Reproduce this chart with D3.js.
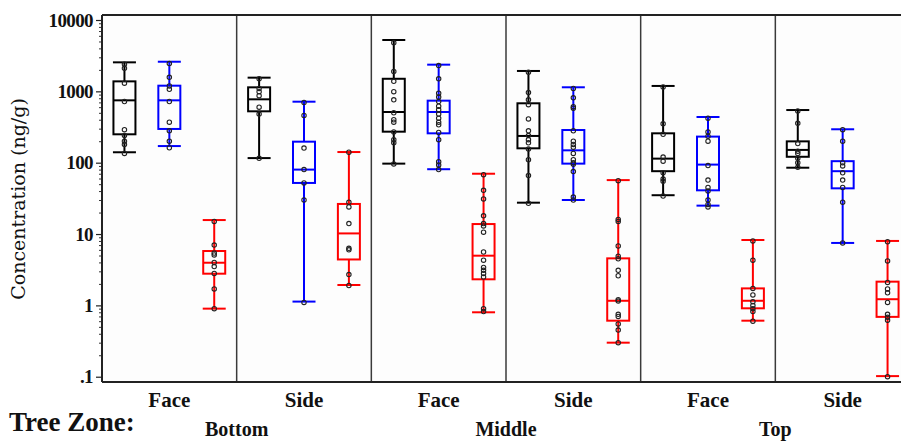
<!DOCTYPE html>
<html>
<head>
<meta charset="utf-8">
<script src="https://cdn.jsdelivr.net/npm/d3@7"></script>
<style>
  body { margin: 0; background: #fff; }
  svg { display: block; }
</style>
</head>
<body>
<div id="chart"></div>
<script>
// panels: zone x side
const zones = ["Bottom", "Middle", "Top"];
const sides = ["Face", "Side"];
const seriesNames = ["black", "blue", "red"];
const seriesColors = ["#000000", "#0000ff", "#ff0000"];
const tickValues = [0.1, 1, 10, 100, 1000, 10000];
const tickLabels = [".1", "1", "10", "100", "1000", "10000"];

// box stats per panel (BF, BS, MF, MS, TF, TS): [low whisker, q1, median, q3, high whisker]
const blackBoxes = [
  [140, 250, 748, 1380, 2550],
  [116, 525, 773, 1138, 1555],
  [97, 272, 513, 1500, 5240],
  [27.5, 159, 237, 680, 1930],
  [35, 76, 114, 258, 1190],
  [85, 121, 151, 199, 547]
];
const blueBoxes = [
  [171, 297, 748, 1200, 2600],
  [1.13, 52, 80, 197, 716],
  [81, 258, 513, 740, 2365],
  [30, 97, 149, 287, 1140],
  [25, 41, 94, 232, 437],
  [7.5, 43.7, 76, 105, 294]
];
const redBoxes = [
  [0.9, 2.78, 3.96, 5.78, 15.7],
  [1.93, 4.4, 10.2, 26.4, 141],
  [0.8, 2.32, 4.97, 13.8, 70],
  [0.3, 0.61, 1.16, 4.56, 57],
  [0.61, 0.91, 1.16, 1.73, 8.25],
  [0.102, 0.69, 1.22, 2.15, 8]
];

// individual observations per panel
const blackPoints = [
  [2400, 2100, 1300, 720, 290, 240, 200, 180, 135],
  [1500, 1100, 990, 870, 600, 480, 115],
  [4800, 1900, 1380, 990, 760, 500, 400, 370, 270, 210, 190, 96],
  [1850, 960, 760, 650, 410, 280, 240, 210, 190, 155, 110, 66, 27],
  [1150, 350, 250, 120, 105, 72, 59, 55, 34],
  [530, 356, 185, 145, 135, 115, 100, 86]
];
const bluePoints = [
  [2450, 1570, 1190, 1070, 720, 370, 280, 200, 162],
  [700, 460, 160, 80, 52, 30, 1.1],
  [2300, 1500, 940, 830, 720, 620, 550, 480, 420, 370, 340, 265, 210, 103, 93, 80],
  [1100, 810, 610, 580, 280, 200, 180, 165, 135, 110, 100, 95, 75, 33, 30],
  [420, 270, 235, 200, 91, 57, 45, 40, 30, 26, 24],
  [290, 200, 100, 90, 72, 57, 45, 28, 7.5]
];
const redPoints = [
  [15, 7, 5.4, 5.1, 4.0, 3.5, 2.8, 1.7, 0.9],
  [140, 28, 24, 14, 6.3, 6, 2.7, 1.9],
  [68, 41, 31, 18, 14, 13, 10.6, 5.6, 4.3, 3.4, 3.1, 2.8, 2.5, 0.9, 0.82],
  [56, 16, 15, 6.8, 4.9, 4.5, 3.1, 2.6, 1.2, 1.15, 0.75, 0.7, 0.55, 0.45, 0.3],
  [8, 4.3, 1.73, 1.4, 1.12, 1.0, 0.9, 0.82, 0.6],
  [7.8, 4.2, 2.1, 1.7, 1.5, 1.1, 0.75, 0.68, 0.62, 0.1]
];

const W = 901, H = 442;
const plot = { left: 102, right: 910, top: 15, bottom: 382 };
const serif = "'Liberation Serif', 'Times New Roman', serif";

const svg = d3.select("#chart").append("svg")
  .attr("width", W)
  .attr("height", H);

const panels = [];
zones.forEach(z => sides.forEach(s => panels.push(z + "|" + s)));

const xPanel = d3.scaleBand().domain(panels).range([plot.left, plot.right]);
const xSeries = d3.scaleBand().domain(seriesNames).range([0, xPanel.bandwidth()]);
const y = d3.scaleLog()
  .domain([Math.pow(10, -1.074), Math.pow(10, 4.07)])
  .range([plot.bottom, plot.top]);

const boxW = 22;
const allBoxes = [blackBoxes, blueBoxes, redBoxes];
const allPoints = [blackPoints, bluePoints, redPoints];

// panel background
svg.append("rect")
  .attr("x", plot.left).attr("y", plot.top)
  .attr("width", plot.right - plot.left).attr("height", plot.bottom - plot.top)
  .attr("fill", "#fdfdfd");

// panel dividers
svg.append("g").selectAll("line")
  .data(panels.slice(1))
  .join("line")
  .attr("x1", d => xPanel(d)).attr("x2", d => xPanel(d))
  .attr("y1", plot.top).attr("y2", plot.bottom)
  .attr("stroke", "#3a3a3a")
  .attr("stroke-width", 1.5);

// boxes
panels.forEach((p, pi) => {
  seriesNames.forEach((s, si) => {
    const st = allBoxes[si][pi];
    const cx = xPanel(p) + xSeries(s) + xSeries.bandwidth() / 2;
    const col = seriesColors[si];
    const g = svg.append("g")
      .attr("stroke", col)
      .attr("stroke-width", 2)
      .attr("fill", "none");

    g.append("line")
      .attr("x1", cx).attr("x2", cx)
      .attr("y1", y(st[0])).attr("y2", y(st[4]));
    [st[0], st[4]].forEach(v => {
      g.append("line")
        .attr("x1", cx - boxW / 2 - 0.5).attr("x2", cx + boxW / 2 + 0.5)
        .attr("y1", y(v)).attr("y2", y(v));
    });
    g.append("rect")
      .attr("x", cx - boxW / 2).attr("width", boxW)
      .attr("y", y(st[3])).attr("height", y(st[1]) - y(st[3]))
      .attr("fill", "#fdfdfd");
    g.append("line")
      .attr("x1", cx - boxW / 2).attr("x2", cx + boxW / 2)
      .attr("y1", y(st[2])).attr("y2", y(st[2]));

    svg.append("g").selectAll("circle")
      .data(allPoints[si][pi])
      .join("circle")
      .attr("cx", cx)
      .attr("cy", d => y(d))
      .attr("r", 2.2)
      .attr("fill", "none")
      .attr("stroke", "#222")
      .attr("stroke-width", 1.1);
  });
});

// frame
svg.append("line")
  .attr("x1", plot.left).attr("x2", W)
  .attr("y1", plot.top).attr("y2", plot.top)
  .attr("stroke", "#222").attr("stroke-width", 2);
svg.append("line")
  .attr("x1", plot.left).attr("x2", W)
  .attr("y1", plot.bottom).attr("y2", plot.bottom)
  .attr("stroke", "#222").attr("stroke-width", 2);

// y axis with minor ticks
const minorTicks = [];
for (let e = -1; e < 4; e++) {
  for (let m = 2; m <= 9; m++) minorTicks.push(m * Math.pow(10, e));
}
svg.append("g")
  .attr("transform", `translate(${plot.left},0)`)
  .call(d3.axisLeft(y).tickValues(minorTicks).tickSize(3).tickFormat(""))
  .call(g => g.select(".domain").remove())
  .call(g => g.selectAll(".tick line").attr("stroke", "#333"));

const yAxis = svg.append("g")
  .attr("transform", `translate(${plot.left},0)`)
  .call(d3.axisLeft(y)
    .tickValues(tickValues)
    .tickSize(6)
    .tickPadding(3)
    .tickFormat((d, i) => tickLabels[i]));
yAxis.select(".domain")
  .attr("d", `M0,${plot.top}V${plot.bottom}`)
  .attr("stroke", "#222").attr("stroke-width", 2);
yAxis.selectAll(".tick line").attr("stroke", "#222").attr("stroke-width", 1.2);
yAxis.selectAll(".tick text")
  .attr("font-family", serif)
  .attr("font-weight", "bold")
  .attr("font-size", 19)
  .attr("letter-spacing", -0.6)
  .attr("fill", "#111");

svg.append("text")
  .attr("transform", "translate(25,199) rotate(-90)")
  .attr("text-anchor", "middle")
  .attr("font-family", "'DejaVu Serif', serif")
  .attr("font-size", 19)
  .attr("fill", "#111")
  .text("Concentration (ng/g)");

// side labels
svg.append("g").selectAll("text")
  .data(panels)
  .join("text")
  .attr("x", d => xPanel(d) + xPanel.bandwidth() / 2)
  .attr("y", 407)
  .attr("text-anchor", "middle")
  .attr("font-family", serif)
  .attr("font-weight", "bold")
  .attr("font-size", 21)
  .attr("fill", "#111")
  .text(d => d.split("|")[1]);

// zone labels
svg.append("g").selectAll("text")
  .data(zones)
  .join("text")
  .attr("x", d => xPanel(d + "|Side"))
  .attr("y", 436)
  .attr("text-anchor", "middle")
  .attr("font-family", serif)
  .attr("font-weight", "bold")
  .attr("font-size", 20)
  .attr("fill", "#111")
  .text(d => d);

svg.append("text")
  .attr("x", 9)
  .attr("y", 431)
  .attr("font-family", serif)
  .attr("font-weight", "bold")
  .attr("font-size", 27)
  .attr("fill", "#111")
  .text("Tree Zone:");
</script>
</body>
</html>
